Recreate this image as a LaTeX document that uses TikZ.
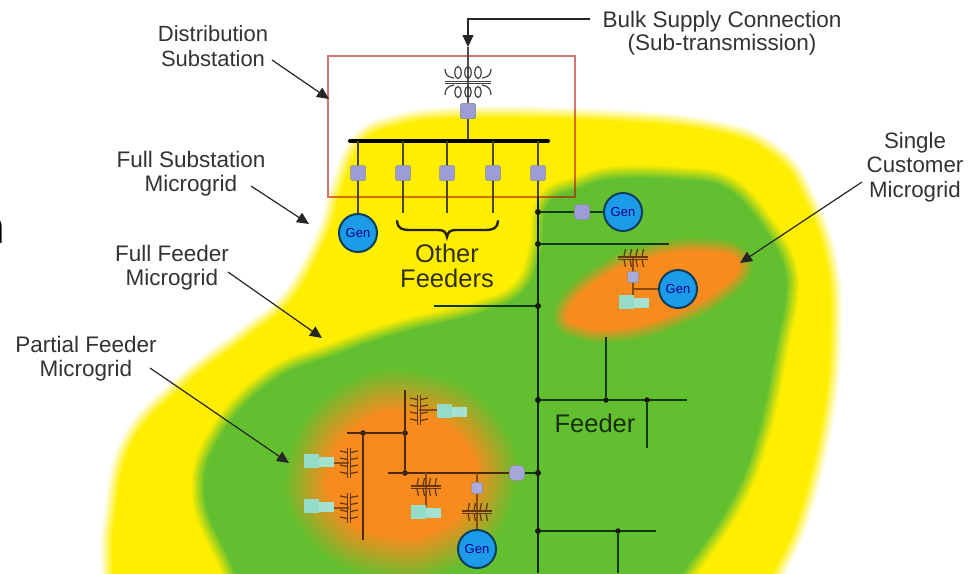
\documentclass[tikz,border=0pt]{standalone}
\usepackage{fontspec}
\setmainfont{Liberation Sans}
\usetikzlibrary{arrows.meta,calc}
\definecolor{yel}{HTML}{FFEE00}
\definecolor{grn}{HTML}{62C030}
\definecolor{org}{HTML}{F98B1E}
\definecolor{wire}{HTML}{123A10}
\definecolor{brk}{HTML}{9C9CD8}
\definecolor{genb}{HTML}{1C9BE8}
\definecolor{load}{HTML}{93DCC8}
\definecolor{txt}{HTML}{333333}
\tikzset{
 x=1pt,y=-1pt,
 label/.style={font=\fontsize{22.5}{24}\selectfont,align=center,text=txt,inner sep=0pt},
 big/.style={font=\fontsize{25.5}{25}\selectfont,align=center,text=black!80!yel,inner sep=0pt},
 ptr/.style={-{Triangle[length=12pt,width=11pt]},line width=1.2pt,black!85},
 wr/.style={line width=1.7pt,draw=wire},
 wy/.style={line width=1.8pt,draw=black!70!yel},
 wo/.style={line width=1.3pt,draw=black!45!org},
 wb/.style={line width=2.2pt,draw=black!70!org},
 busbar/.style={line width=4pt,draw=black,line cap=round},
 brkbox/.style={rectangle,fill=brk,draw=black!45,line width=.5pt,minimum size=15pt,inner sep=0pt,rounded corners=1.5pt},
 brksmall/.style={brkbox,minimum size=11pt,fill=brk!85!white},
 gennode/.style={circle,fill=genb,draw=black!60!genb,line width=2pt,minimum size=38pt,inner sep=0pt,font=\fontsize{13}{13}\selectfont,text=blue!55!black},
 dotn/.style={circle,fill=black!90,inner sep=0pt,minimum size=6pt},
 dots/.style={dotn,minimum size=5.5pt},
 loadbox/.style={rectangle,fill=load,minimum width=15pt,minimum height=14pt,inner sep=0pt},
 loadtail/.style={rectangle,fill=load!85!white,minimum width=15pt,minimum height=10pt,inner sep=0pt},
}
% soft blob: stroke the core path with colours fading outward
\newcommand{\softblob}[5]{% colour, background, max width, steps, path
 \foreach \k in {0,...,#4}{
  \pgfmathsetmacro{\pct}{100*(\k+1)/(#4+1)}
  \pgfmathsetmacro{\wdt}{#3*(#4-\k)/(#4+1)}
  \path[fill=#1!\pct!#2,draw=#1!\pct!#2,line width=\wdt pt,line join=round] #5;
 }}
\newcommand{\coilh}[3]{% main transformer
 \begin{scope}[shift={(#1,#2)},line width=1.2pt,draw=#3]
  \foreach \d in {-10,0,10}{
   \draw (\d,-9.5) ellipse (3.2 and 6);
   \draw (\d,10) ellipse (3.2 and 5.5);
  }
  \draw (-23,-13) .. controls (-23,-7) and (-20,-5) .. (-14,-4) (23,-13) .. controls (23,-7) and (20,-5) .. (14,-4);
  \draw (-23,13) .. controls (-23,7) and (-20,4) .. (-14,3) (23,13) .. controls (23,7) and (20,4) .. (14,3);
  \draw (-23,-0.8) -- (23,-0.8) (-23,1.2) -- (23,1.2);
 \end{scope}}
\newcommand{\coilv}[3]{% vertical-axis transformer, ribs left and right
 \begin{scope}[shift={(#1,#2)},line width=1.2pt,draw=#3]
  \foreach \d in {-10.5,-3.5,3.5,10.5}{
   \draw (-1.5,\d) -- (-9,\d-1.5);
   \draw (1.5,\d) -- (9,\d-1.5);
  }
  \draw (-1.2,-15) -- (-1.2,15) (1.2,-15) -- (1.2,15);
 \end{scope}}
\newcommand{\coilw}[3]{% horizontal-axis transformer, ribs above and below
 \begin{scope}[shift={(#1,#2)},line width=1.2pt,draw=#3]
  \foreach \d in {-9,-3,3,9}{
   \draw (\d,-1.5) -- (\d+1.5,-9);
   \draw (\d,1.5) -- (\d+1.5,9);
  }
  \draw (-15,-1.1) -- (15,-1.1) (-15,1.1) -- (15,1.1);
 \end{scope}}
\newcommand{\loadn}[3]{% name x y : load symbol, x y = left box centre
 \node[loadtail] at (#2+15,#3+1) {};
 \node[loadbox] (#1) at (#2,#3) {};
}
\begin{document}
\begin{tikzpicture}
\useasboundingbox (0,0) rectangle (974,573);
\clip (0,0) rectangle (974,573);
\fill[white] (0,0) rectangle (974,573);
% ---- zones
\softblob{yel}{white}{26}{12}{plot[smooth,tension=.7] coordinates {(115,620) (113,570) (115,520) (133,442) (188,383) (247,338) (293,299) (328,235) (341,192) (361,145) (394,127) (453,119) (580,120) (709,131) (774,157) (805,202) (826,263) (830,330) (823,411) (800,510) (772,574) (747,620)} -- cycle}
\softblob{grn}{yel}{28}{12}{plot[smooth,tension=.7] coordinates {(248,620) (234,570) (205,497) (221,436) (273,381) (336,355) (401,333) (481,313) (524,291) (541,251) (548,205) (578,189) (616,179) (680,180) (725,188) (759,222) (783,265) (785,300) (777,340) (759,427) (732,499) (685,569) (647,620)} -- cycle}
\softblob{org}{grn}{30}{14}{plot[smooth cycle,tension=.8] coordinates {(568,312) (600,280) (650,258) (705,252) (738,262) (720,288) (670,315) (620,328) (582,326)}}
\softblob{org}{grn}{90}{24}{plot[smooth cycle,tension=.9] coordinates {(330,470) (360,425) (415,415) (465,445) (470,495) (435,530) (385,535) (340,510)}}
% ---- substation box
\draw[red!75!black,opacity=.55,line width=1.5pt] (328,56) rectangle (575,197);
% ---- substation wires
\coordinate (topin) at (468,19);
\coordinate (tip) at (468,47);
\coordinate (xf) at (468,82);
\node[brkbox] (bk0) at (468,111) {};
\coordinate (busL) at (350,141);
\coordinate (busR) at (548,141);
\coordinate (busM) at (468,141);
\draw[wy,draw=black!70] (tip) -- (bk0);
\draw[wy] (bk0) -- (busM);
\draw[busbar] (busL) -- (busR);
\coilh{468}{82}{black!75}
\node[brkbox] at (468,111) {};
\node[gennode] (g1) at (358,233) {Gen};
\coordinate (e2) at (403,213);
\coordinate (e3) at (447,213);
\coordinate (e4) at (493,213);
\coordinate (b1) at (358,141);
\coordinate (b2) at (403,141);
\coordinate (b3) at (447,141);
\coordinate (b4) at (493,141);
\coordinate (b5) at (538,141);
\draw[wy] (b1) -- (g1);
\draw[wy] (b2) -- (e2);
\draw[wy] (b3) -- (e3);
\draw[wy] (b4) -- (e4);
\node[brkbox] (f1) at (358,173) {};
\node[brkbox] (f2) at (403,173) {};
\node[brkbox] (f3) at (447,173) {};
\node[brkbox] (f4) at (493,173) {};
\draw[line width=2.4pt,draw=black!85!yel,line cap=round] (397,221) .. controls (398,229) and (402,230) .. (411,230) -- (438,230) .. controls (444,230) and (446,232) .. (447,237) .. controls (448,232) and (450,230) .. (456,230) -- (484,230) .. controls (493,230) and (497,229) .. (498,221);
\node[big] (of) at (447,266) {Other\\Feeders};
% ---- main feeder
\coordinate (fb) at (538,573);
\coordinate (fc) at (538,197);
\draw[wy] (b5) -- (fc);
\draw[line width=2pt,draw=black!80!grn] (fc) -- (fb);
\node[brkbox] (f5) at (538,173) {};
\node[dotn] (d1) at (538,212) {};
\node[dotn] (d2) at (538,244) {};
\node[dotn] (d3) at (538,306) {};
\node[dotn] (d4) at (538,400) {};
\node[dotn] (d5) at (538,473) {};
\node[dotn] (d6) at (538,531) {};
\node[brkbox] (bk6) at (582,212) {};
\node[gennode] (g2) at (623,212) {Gen};
\draw[wr] (d1) -- (bk6);
\draw[wr] (bk6) -- (g2);
\coordinate (e5) at (669,244);
\draw[wr] (d2) -- (e5);
\coordinate (e6) at (434,306);
\draw[wr] (d3) -- (e6);
\coordinate (e7) at (687,400);
\draw[wr] (d4) -- (e7);
\node[dots] (d7) at (606,400) {};
\node[dots] (d8) at (647,400) {};
\coordinate (e8) at (606,337);
\coordinate (e9) at (647,448);
\draw[wr] (d7) -- (e8);
\draw[wr] (d8) -- (e9);
\coordinate (e10) at (656,531);
\draw[wr] (d6) -- (e10);
\node[dots] (d9) at (618,531) {};
\coordinate (e11) at (618,573);
\draw[wr] (d9) -- (e11);
\node[inner sep=0pt,font=\fontsize{25.5}{25}\selectfont,text=black!75!grn] (fd) at (595,423) {Feeder};
% ---- single customer
\coordinate (j1) at (633,289);
\coordinate (j2) at (633,308);
\coordinate (j0) at (633,258);
\draw[wo] (j0) -- (j2);
\loadn{l1}{626}{302}
\coilw{633}{258}{black!60!org}
\node[brksmall] (b7) at (633,277) {};
\node[gennode] (g3) at (678,289) {Gen};
\draw[wo] (j1) -- (g3);
% ---- partial feeder
\coordinate (a1) at (347,433);
\node[dots] (p1) at (363,433) {};
\node[dots] (p2) at (405,433) {};
\node[dots] (p3) at (405,473) {};
\coordinate (p4) at (405,390);
\coordinate (p5) at (388,473);
\coordinate (p6) at (363,540);
\node[brkbox,fill=brk!90!white,rounded corners=4pt] (b8) at (517,473) {};
\draw[wb] (a1) -- (p2);
\draw[wb] (p4) -- (p3);
\draw[wb] (p1) -- (p6);
\draw[wb] (p5) -- (b8);
\draw[wr] (b8) -- (d5);
% coil + load groups
\coordinate (c1) at (419,410);
\coordinate (c1e) at (440,410);
\draw[wo] (c1) -- (c1e);
\loadn{l2}{444}{411}
\coilv{419}{410}{black!60!org}
\coordinate (c3) at (349,463);
\coordinate (c3e) at (325,463);
\draw[wo] (c3) -- (c3e);
\loadn{l3}{311}{461}
\coilv{349}{463}{black!60!org}
\coordinate (c4) at (349,508);
\coordinate (c4e) at (325,508);
\draw[wo] (c4) -- (c4e);
\loadn{l4}{311}{506}
\coilv{349}{508}{black!60!org}
\coordinate (c5) at (426,473);
\coordinate (c5e) at (426,507);
\draw[wo] (c5) -- (c5e);
\loadn{l5}{418}{512}
\coilw{426}{487}{black!60!org}
\coordinate (q1) at (477,473);
\node[brksmall] (b9) at (477,488) {};
\node[gennode] (g4) at (477,549) {Gen};
\draw[wo] (q1) -- (b9);
\draw[wo] (b9) -- (g4);
\coilw{477}{512}{black!60!org}
% ---- labels and pointers
\node[label,font=\fontsize{22}{25}\selectfont] (lb1) at (213,46) {Distribution\\Substation};
\node[label] (lb2) at (191,174) {Full Substation\\Microgrid};
\node[label] (lb3) at (172,268) {Full Feeder\\Microgrid};
\node[label] (lb4) at (86,359) {Partial Feeder\\Microgrid};
\node[label,font=\fontsize{22.5}{23.5}\selectfont] (lb5) at (722,33) {Bulk Supply Connection\\(Sub-transmission)};
\node[label,font=\fontsize{22.3}{24.5}\selectfont] (lb6) at (915,167) {Single\\Customer\\Microgrid};
\coordinate (t1) at (329,99);
\coordinate (t2) at (309,224);
\coordinate (t3) at (322,338);
\coordinate (t4) at (289,463);
\coordinate (t6) at (740,263);
\coordinate (s1) at (272,60);
\coordinate (s2) at (251,186);
\coordinate (s3) at (228,272);
\coordinate (s4) at (150,368);
\coordinate (s6) at (862,182);
\coordinate (s5) at (590,19);
\draw[ptr] (s1) -- (t1);
\draw[ptr] (s2) -- (t2);
\draw[ptr] (s3) -- (t3);
\draw[ptr] (s4) -- (t4);
\draw[ptr] (s6) -- (t6);
\draw[ptr] (s5) -- (topin) -- (tip);
% cropped letter at left edge
\node[inner sep=0pt,font=\fontsize{46}{46}\selectfont,text=black,anchor=base east] (cut) at (5,243) {n};
\end{tikzpicture}
\end{document}
